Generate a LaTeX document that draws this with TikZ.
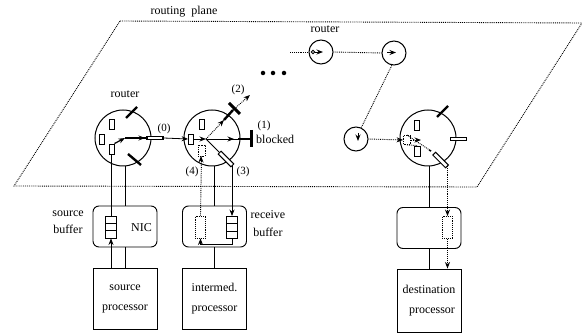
\documentclass[tikz,border=0pt]{standalone}
\usepackage{fontspec}
\setmainfont{Liberation Serif}
\usepackage{tikz}
\usetikzlibrary{
	arrows.meta,
	calc,
	positioning
}
\tikzset{
	router/.style={draw, circle, line width=1pt, minimum size=56pt, inner sep=0pt},
	smallrouter/.style={draw, circle, line width=1pt, minimum size=24pt, inner sep=0pt},
	nicbox/.style={draw, rounded corners=6pt, line width=0.9pt, minimum width=64pt, minimum height=41pt, inner sep=0pt},
	procbox/.style={draw, line width=0.9pt, minimum width=64pt, minimum height=61pt, inner sep=0pt, align=center, font=\fontsize{12}{20}\selectfont},
	bufbox/.style={draw, line width=0.9pt, fill=white, minimum width=10.5pt, minimum height=22pt, inner sep=0pt,
		path picture={
			\draw[line width=1.1pt] ($(path picture bounding box.north west)!0.33!(path picture bounding box.south west)$) -- ($(path picture bounding box.north east)!0.33!(path picture bounding box.south east)$);
			\draw[line width=1.1pt] ($(path picture bounding box.north west)!0.67!(path picture bounding box.south west)$) -- ($(path picture bounding box.north east)!0.67!(path picture bounding box.south east)$);
		}},
	dotbuf/.style={draw, densely dotted, line width=0.9pt, minimum width=10.5pt, minimum height=22pt, inner sep=0pt},
	slot/.style={draw, line width=0.9pt, fill=white, minimum width=5pt, minimum height=10pt, inner sep=0pt},
	dotslot/.style={draw, densely dotted, line width=0.8pt, minimum width=7pt, minimum height=11pt, inner sep=0pt},
	wire/.style={line width=0.8pt},
	dotwire/.style={densely dotted, line width=0.9pt},
	port/.style={line width=2.4pt},
	tip/.style={-{Stealth[length=6.5pt,width=5pt]}},
	lbl/.style={inner sep=0pt, font=\fontsize{12}{14}\selectfont},
	numlbl/.style={inner sep=0pt, font=\fontsize{11}{13}\selectfont},
}

\begin{document}
\begin{tikzpicture}[x=1pt, y=-1pt]
	\useasboundingbox (0,0) rectangle (582,334);
	% routing plane
	\coordinate (pnw) at (120,21);
	\coordinate (pne) at (582,23);
	\coordinate (pse) at (477,187);
	\coordinate (psw) at (14,186);
	\draw[dotwire] (pnw) -- (pne) -- (pse) -- (psw) -- cycle;
	\node[lbl] (planelabel) at (184,12) {routing\ \ plane};

	% routers
	\node[router] (routera) at (123,138) {};
	\node[router] (routerb) at (212,138) {};
	\node[router] (routerd) at (428,138) {};
	\node[smallrouter] (smalla) at (321,52) {};
	\node[smallrouter] (smallb) at (394,53) {};
	\node[smallrouter] (smallc) at (356,139) {};
	\node[lbl] (routeralabel) at (125,94) {router};
	\node[lbl] (smallalabel) at (325,29) {router};
	\foreach \x/\n in {263/a,273/b,284/c}
		\node[circle, fill, minimum size=4.5pt, inner sep=0pt] (dot\n) at (\x,73) {};

	% interfaces and processors
	\node[nicbox] (nica) at (125,226.5) {};
	\node[nicbox] (nicb) at (214.5,226.5) {};
	\node[nicbox] (nicd) at (429,228) {};
	\node[procbox] (proca) at (125,298.5) {source\\processor};
	\node[procbox] (procb) at (214.5,298.5) {intermed.\\processor};
	\node[procbox, minimum height=63pt] (procd) at (429,300.5) {destination\\\ \ processor};
	\node[lbl, anchor=east] (nicalabel) at (152,228) {NIC};
	\node[bufbox] (bufa) at (111,227) {};
	\node[bufbox] (bufb) at (232,227.5) {};
	\node[dotbuf] (bufc) at (200.5,227) {};
	\node[dotbuf] (bufd) at (447.5,227.5) {};
	\node[lbl] (srclabel) at (68,214) {source};
	\node[lbl] (srclabelb) at (68,229) {buffer};
	\node[lbl] (rcvlabel) at (268,215) {receive};
	\node[lbl] (rcvlabelb) at (268,232) {buffer};

	% slots in the routers
	\node[slot] (slota) at (112,124) {};
	\node[slot] (slotb) at (102,139) {};
	\node[slot] (slotc) at (111.5,149) {};
	\node[slot] (slote) at (191,139) {};
	\node[slot] (slotf) at (202,124) {};
	\node[slot] (slotg) at (417,125) {};
	\node[slot, minimum width=6pt] (sloth) at (417,151) {};
	\node[dotslot] (sloti) at (201.5,150.5) {};
	\node[dotslot, minimum height=9pt] (slotj) at (407,140) {};

	% ports of the first router
	\coordinate (aturn) at (125,138);
	\draw[port] (126,118) -- (137,107);
	\draw[port] (128,154) -- (141,165);
	\node[draw, fill=white, line width=1.1pt, minimum width=16pt, minimum height=3.5pt, inner sep=0pt] (porta) at (155,138) {};
	\draw[line width=1.2pt, tip] (slotc.north east) -- (aturn);
	\draw[line width=1.2pt] (aturn) -- (porta.west);
	\draw[tip, line width=1pt] (aturn) -- (145,138);
	\draw[wire, tip] (porta.east) -- (slote.west);

	% second router
	\coordinate (bhub) at (206,139);
	\coordinate (bstub) at (251,139);
	\coordinate (bne) at (224,120);
	\coordinate (btip) at (250,95);
	\coordinate (bport) at (233,110);
	\coordinate (bse) at (220,153);
	\coordinate (bout) at (232,165);
	\draw[wire, tip] (slote.east) -- (bhub);
	\draw[wire] (bhub) -- (bstub);
	\draw[wire, tip] (bhub) -- (234,139);
	\draw[port] (238,139) -- (bstub);
	\draw[line width=3pt] (bstub |- 0,130) -- (bstub |- 0,147);
	\draw[dotwire, tip] (bhub) -- (bne);
	\draw[port] (bne) -- (bport);
	\draw[line width=3pt] (229,103) -- (240,114);
	\draw[dotwire, tip] (bport) -- (btip);
	\draw[wire] (bhub) -- (bse);
	\node[draw, fill=white, line width=1pt, minimum width=18pt, minimum height=4pt, inner sep=0pt, rotate=-45] (portb) at ($(bse)!0.5!(bout)$) {};

	% third router
	\coordinate (dhub) at (431,151);
	\coordinate (dout) at (447,166);
	\coordinate (dmid) at (421,140);
	\draw[port] (437,117) -- (448,106);
	\node[draw, fill=white, line width=0.9pt, minimum width=16pt, minimum height=3pt, inner sep=0pt] (portd) at (458,138.5) {};
	\node[draw, fill=white, line width=1pt, minimum width=18pt, minimum height=4pt, inner sep=0pt, rotate=-45] (porte) at ($(dhub)!0.6!(dout)$) {};
	\draw[line width=1.5pt] (429,150) -- (dhub);
	\draw[dotwire, tip] (smallc.east) -- (slotj.west);
	\draw[dotwire, tip] (slotj.east) -- (dmid);
	\draw[dotwire] (slotj.north) -- (dhub);
	\draw[dotwire] (slotj.south) -- (sloth.north);

	% small routers
	\coordinate (smallstart) at (290,52);
	\draw[dotwire] (smallstart) -- (smalla.west);
	\draw[dotwire] (smalla.east) -- (smallb.west);
	\node[circle, draw, line width=0.9pt, minimum size=3.5pt, inner sep=0pt] (tailb) at (313,52) {};
	\draw[tip, line width=0.9pt] (tailb.east) -- (323,52);
	\draw[tip, line width=0.9pt] (387,52.5) -- (396,52.5);
	\draw[dotwire] (smallb.-100) -- (smallc.65);
	\draw[tip, line width=0.9pt] (358,133) -- (358,141);

	% wires between levels
	\draw[wire, tip] (bufa.south |- proca.north) -- (bufa.south);
	\draw[line width=1pt] (bufa.north) -- (bufa.north |- slotc.south);
	\draw[wire] (nica.north) -- (nica.north |- routera.south);
	\draw[wire] (proca.north) -- (nica.south);
	\draw[wire] (nicb.north) -- (nicb.north |- routerb.south);
	\draw[wire] (procb.north) -- (nicb.south);
	\draw[dotwire] (bufc.north) -- (sloti.south);
	\draw[wire, tip] (201,162) -- (201,156);
	\draw[wire, tip] (bufb.north |- bout) -- (bufb.north);
	\coordinate (bufturn) at (232,245);
	\draw[wire] (bufb.south) -- (bufturn);
	\draw[line width=1pt, tip] (bufturn) -| (bufc.south);
	\draw[wire] (nicd.north) -- (nicd.north |- routerd.south);
	\draw[wire] (procd.north) -- (nicd.south);
	\draw[dotwire, tip] (bufd.north |- dout) -- (bufd.north);
	\draw[dotwire, tip] (bufd.south) -- (bufd.south |- procd.north);

	% edge labels
	\node[numlbl] (labelzero) at (164,129) {(0)};
	\node[numlbl] (labelone) at (264,126) {(1)};
	\node[lbl, anchor=west] (labelblocked) at (256,139) {blocked};
	\node[numlbl] (labeltwo) at (238,90) {(2)};
	\node[numlbl] (labelthree) at (243,172) {(3)};
	\node[numlbl] (labelfour) at (192,172) {(4)};
\end{tikzpicture}
\end{document}
